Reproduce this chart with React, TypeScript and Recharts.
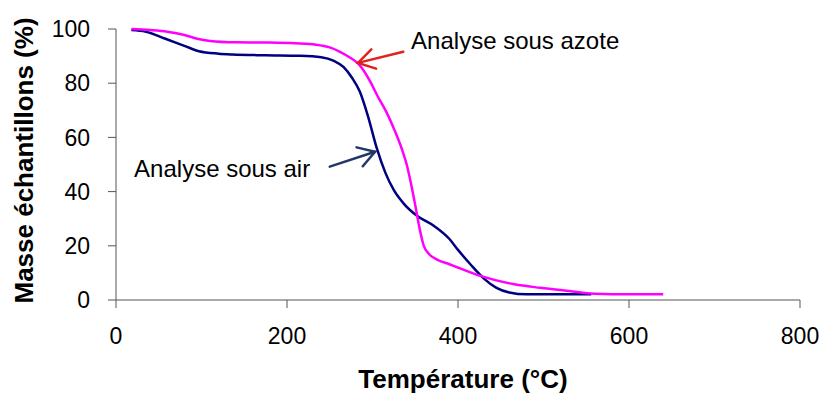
import { LineChart, Line, XAxis, YAxis, ReferenceLine, ReferenceDot } from "recharts";

// Analyse sous air (bleu)
const airTemp = [18, 35, 57, 80, 97, 120, 136, 175, 215, 240, 255, 266, 276, 285, 295, 305, 315, 325, 337, 352, 372, 390, 400, 415, 430, 445, 460, 480, 520, 556];
const airMass = [99.6, 99, 96.5, 93.8, 91.8, 90.9, 90.6, 90.3, 90.1, 89.6, 88.2, 86, 82, 77, 67.5, 56, 47, 40.5, 35.4, 31.1, 27.3, 22.5, 18.5, 13, 8, 4.5, 2.8, 2.1, 2.1, 2.1];

// Analyse sous azote (magenta)
const azoteTemp = [18, 40, 60, 80, 95, 110, 140, 175, 210, 234, 250, 262, 273, 283, 290, 298, 306, 316, 326, 334, 340, 345, 350, 355, 360, 366, 375, 390, 426, 466, 496, 530, 560, 600, 640];
const azoteMass = [100, 99.6, 99, 97.8, 96.4, 95.6, 95.1, 95, 94.7, 94.2, 93.2, 91.6, 89.6, 87.3, 84.5, 80.2, 75.2, 69.5, 62.5, 56, 50, 43, 35, 26.5, 20, 17, 15, 13.2, 8.9, 5.8, 4.5, 3.3, 2.3, 2.1, 2.1];

const xTicks = [0, 200, 400, 600, 800];
const yTicks = [0, 20, 40, 60, 80, 100];

const airData = airTemp.map((t, i) => ({ t, m: airMass[i] }));
const azoteData = azoteTemp.map((t, i) => ({ t, m: azoteMass[i] }));

const font = "'Liberation Sans', Arial, sans-serif";
const axisColor = "#555";

// line with an open arrow head at its end (x2, y2)
const Arrow = (color: string) => (props: any) => {
    const { x1, y1, x2, y2 } = props;
    const a = Math.atan2(y2 - y1, x2 - x1);
    const len = 19;
    const spread = 0.55;
    const ax = x2 - len * Math.cos(a - spread);
    const ay = y2 - len * Math.sin(a - spread);
    const bx = x2 - len * Math.cos(a + spread);
    const by = y2 - len * Math.sin(a + spread);
    return (
        <g stroke={color} strokeWidth={2.5} fill="none" strokeLinecap="round">
            <line x1={x1} y1={y1} x2={x2} y2={y2} />
            <polyline points={`${ax},${ay} ${x2},${y2} ${bx},${by}`} />
        </g>
    );
};

export default function App() {
    return (
        <div style={{ position: "absolute", left: 0, top: 0, background: "#fff" }}>
            <LineChart width={824} height={394} margin={{ top: 29, right: 24, bottom: 0, left: 0 }} style={{ fontFamily: font }}>
                <XAxis
                    type="number"
                    dataKey="t"
                    domain={[0, 800]}
                    ticks={xTicks}
                    height={94}
                    tickSize={8}
                    tickMargin={20}
                    stroke={axisColor}
                    tick={{ fill: "#000", fontSize: 23 }}
                    label={{ value: "Température (°C)", position: "insideBottom", offset: 6, dx: 5, style: { fontSize: 26, fontWeight: "bold", fill: "#000" } }}
                />
                <YAxis
                    type="number"
                    domain={[0, 100]}
                    ticks={yTicks}
                    width={116}
                    tickSize={8}
                    tickMargin={18}
                    stroke={axisColor}
                    tick={{ fill: "#000", fontSize: 23 }}
                    label={{ value: "Masse échantillons (%)", angle: -90, position: "insideLeft", offset: 24, dy: -4, style: { fontSize: 26, fontWeight: "bold", fill: "#000", textAnchor: "middle" } }}
                />
                <Line data={airData} dataKey="m" type="monotone" stroke="#000080" strokeWidth={2.5} dot={false} isAnimationActive={false} />
                <Line data={azoteData} dataKey="m" type="monotone" stroke="#ff00ff" strokeWidth={2.5} dot={false} isAnimationActive={false} />
                <ReferenceLine segment={[{ x: 336, y: 91.6 }, { x: 283, y: 87.5 }]} shape={Arrow("#e3211c")} />
                <ReferenceLine segment={[{ x: 250, y: 49.2 }, { x: 303, y: 54.7 }]} shape={Arrow("#1f3864")} />
                <ReferenceDot x={344} y={95.8} r={1} fill="none" stroke="none"
                    label={{ value: "Analyse sous azote", position: "right", offset: 0, style: { fontSize: 24, fill: "#000" } }} />
                <ReferenceDot x={20} y={48.7} r={1} fill="none" stroke="none"
                    label={{ value: "Analyse sous air", position: "right", offset: 0, style: { fontSize: 24, fill: "#000" } }} />
            </LineChart>
        </div>
    );
}
